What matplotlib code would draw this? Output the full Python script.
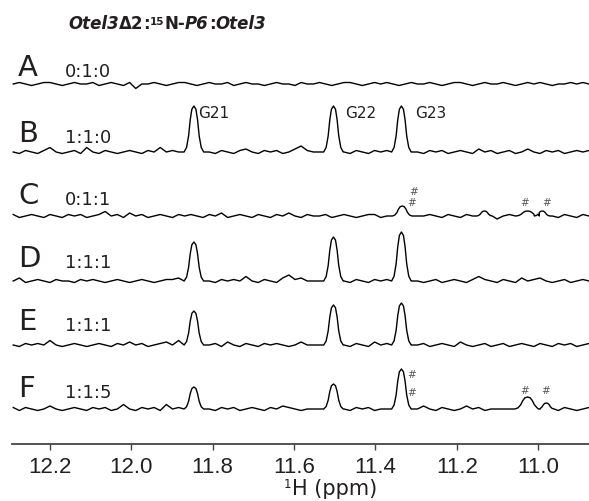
import matplotlib
matplotlib.use("Agg")
import matplotlib.pyplot as plt
import numpy as np

plt.rcParams['font.family'] = ['DejaVu Sans']

# ---- data (intensities in arbitrary units) ----
ppm_start, ppm_stop, n_pts = 12.29, 10.875, 95

trace_labels = ["A", "B", "C", "D", "E", "F"]
ratios = ["0:1:0", "1:1:0", "0:1:1", "1:1:1", "1:1:1", "1:1:5"]
baselines = [360, 292, 228, 163, 99, 35]

# peaks: (ppm, height, width factor)
peaks_a = []
peaks_b = [(11.846, 46, 1.0), (11.503, 46, 1.0), (11.336, 46, 1.0)]
peaks_c = [(11.334, 10, 1.0), (11.132, 5, 0.8), (11.026, 5, 1.2), (10.990, 5, 0.8)]
peaks_d = [(11.846, 39, 1.0), (11.503, 44, 1.0), (11.336, 49, 1.0)]
peaks_e = [(11.846, 34, 1.0), (11.503, 40, 1.0), (11.336, 42, 1.0)]
peaks_f = [(11.846, 22, 1.0), (11.503, 25, 1.0), (11.336, 40, 1.0),
           (11.026, 12, 1.3), (10.980, 6, 0.8)]

# line shape of a single resonance, as traced from the G22 peak
peak_offsets = [-0.024, -0.018, -0.013, -0.009, -0.005, 0.0,
                0.005, 0.009, 0.013, 0.018, 0.024]
peak_profile = [0.0, 0.1, 0.35, 0.7, 0.93, 1.0, 0.93, 0.7, 0.35, 0.1, 0.0]

# baseline noise
noise_a = [0, 1, 0, -1, 0, 1, 1, 0, -1, 0,
           1, 0, 0, 1, -1, 0, 1, 0, -1, 1,
           -3, 0, 0, 1, 0, -1, 0, 1, 1, 0,
           -1, 0, 1, 0, 0, 1, -1, 0, 1, 0,
           0, -1, 0, 1, 0, 0, -1, 1, 0, 0,
           1, 0, -1, 0, 1, 1, 0, -1, 0, 1,
           0, 1, 0, -1, 0, 1, 0, 0, 1, 0,
           -1, 0, 1, 1, 0, -1, 0, 1, 0, 0,
           1, 0, -1, 0, 1, 0, 1, 0, -1, 0,
           0, 1, 0, 1, 0]
noise_b = [0, -1, 1, 0, -1, 1, 3, 0, -1, 0,
           1, -1, 3, 0, -1, 1, 0, -1, 0, 1,
           0, -1, 1, 0, 3, 0, 1, 0, 0, 0,
           0, 0, 0, -1, 1, 0, -1, 1, 2, 0,
           -1, 1, 0, 1, -1, 0, 2, 4, 1, 0,
           0, 0, 0, 0, 0, -1, 1, 0, -1, 1,
           0, 1, 0, 0, 0, 0, 0, -1, 1, 0,
           1, -1, 0, 1, 0, -1, 2, 0, 1, -1,
           0, 1, -1, 0, 2, 0, -1, 1, 0, 1,
           -1, 0, 1, 0, 1]
noise_c = [1, -1, 0, 1, 0, -1, 1, 0, -1, 1,
           0, 1, -1, 0, 1, 3, 0, 1, -1, 2,
           0, 1, -1, 0, 1, 0, -1, 1, 0, 1,
           0, -1, 1, 0, 2, -1, 0, 1, 0, -1,
           1, 0, -1, 1, 0, 2, 0, -1, 1, 0,
           0, 1, -1, 0, 1, 0, -1, 0, 1, 1,
           -1, 0, 1, 0, 0, 0, 0, 0, 1, 0,
           -1, 1, 0, -1, 1, 0, 0, 0, -1, -2,
           0, 1, 0, 0, 0, 0, 0, 0, 0, -1,
           1, 0, -1, 1, 0]
noise_d = [0, 2, -1, 0, 1, 0, -1, 1, 0, 0,
           -1, 1, 0, 1, 0, -1, 0, 1, 0, -1,
           0, 1, 0, -1, 0, 1, 1, 2, 0, 0,
           0, 0, 0, -1, 1, 0, 1, 0, 3, 0,
           -1, 1, 0, -1, 2, 4, 1, 2, 0, 0,
           0, 0, 0, 0, 0, -1, 1, 0, -1, 1,
           0, 1, 0, 0, 0, 0, 0, -1, 0, 1,
           -1, 0, 1, 0, -1, 1, 3, 1, 0, -1,
           1, 0, -1, 2, 0, 1, 2, 0, -1, 0,
           1, -1, 0, 1, 0]
noise_e = [0, -1, 1, 0, 1, 0, 3, 0, -1, 0,
           1, 0, -1, 0, 1, 0, -1, 1, 0, 2,
           0, 1, -1, 0, 1, 2, 0, 3, 0, 0,
           0, 0, 0, 1, -1, 2, 0, -1, 1, 0,
           -1, 1, 0, 1, 0, -1, 0, 2, 0, 0,
           0, 0, 0, 0, 0, -1, 1, 0, -1, 2,
           0, 1, 0, 0, 0, 0, 0, 1, -1, 0,
           1, 0, -1, 2, 0, -1, 0, 1, -1, 0,
           1, -1, 0, 1, 0, -1, 1, 0, -1, 1,
           0, 1, -1, 0, 1]
noise_f = [1, -1, 1, 0, -1, 0, 2, 0, -1, 0,
           1, 0, -1, 1, 0, 1, -1, 0, 3, 0,
           -1, 1, 0, 1, -1, 3, 0, 1, 0, 0,
           0, 0, 0, -1, 1, 0, 1, -1, 0, 1,
           0, -1, 1, 0, 2, 1, 0, -1, 0, 0,
           0, 0, 0, 0, 0, -1, 1, 0, 1, -1,
           0, 0, 0, 0, 0, 0, 0, 2, 0, -1,
           1, 0, -1, 0, 2, 0, 1, -1, 0, 0,
           0, 0, 0, 0, 0, 0, 0, 0, 0, -1,
           1, 0, -1, 0, 1]
noise_scale = 1.5

all_peaks = [peaks_a, peaks_b, peaks_c, peaks_d, peaks_e, peaks_f]
all_noise = [noise_a, noise_b, noise_c, noise_d, noise_e, noise_f]

peak_names = ["G21", "G22", "G23"]
hash_c = [(414, 192), (412, 203), (525, 203), (547, 203)]
hash_f = [(412, 375), (412, 393), (525, 391), (546, 391)]

TXT = '#231f20'

W, H = 589, 502
fig = plt.figure(figsize=(W / 100, H / 100), dpi=100)


def fx(x):
    return x / W


def fy(y):
    return 1 - y / H


ax = fig.add_axes([fx(12), fy(445), 1 - fx(12), 445 / H])
ax.set_xlim(12.293, 10.875)
ax.set_ylim(0, 445)

grid = np.linspace(ppm_start, ppm_stop, n_pts)
for base, peaks, noise in zip(baselines, all_peaks, all_noise):
    xs = list(grid)
    ys = [v * noise_scale for v in noise]
    # drop noise points under each peak and insert the peak points
    keep = [True] * len(xs)
    for (c, h, w) in peaks:
        for i, x in enumerate(xs):
            if abs(x - c) <= 0.024 * w:
                keep[i] = False
    xs = [x for x, k in zip(xs, keep) if k]
    ys = [y for y, k in zip(ys, keep) if k]
    for (c, h, w) in peaks:
        for off, p in zip(peak_offsets, peak_profile):
            xs.append(c + off * w)
            ys.append(h * p)
    order = np.argsort(xs)[::-1]
    xs = np.array(xs)[order]
    ys = np.array(ys)[order] + base
    ax.plot(xs, ys, color='black', lw=1.0, solid_joinstyle='round')

for s in ['left', 'top', 'right']:
    ax.spines[s].set_visible(False)
ax.spines['bottom'].set_linewidth(1.3)
ax.spines['bottom'].set_color('#444444')
ax.set_yticks([])
ax.set_xticks([12.2, 12.0, 11.8, 11.6, 11.4, 11.2, 11.0])
ax.set_xticklabels(['12.2', '12.0', '11.8', '11.6', '11.4', '11.2', '11.0'],
                   family='Liberation Sans')
ax.tick_params(axis='x', direction='out', length=4, width=1, pad=5,
               labelsize=16, colors='#444444', labelcolor=TXT)
ax.set_facecolor('none')

# trace letters and mixing ratios
letter_y = [76, 142, 204, 267, 330, 397]
for lab, rat, y in zip(trace_labels, ratios, letter_y):
    fig.text(fx(18), fy(y), lab, fontsize=21, color=TXT, va='baseline')
    fig.text(fx(65), fy(y + 1), rat, fontsize=13, color=TXT, va='baseline')

# peak assignments
for name, x in zip(peak_names, [198, 345, 415]):
    fig.text(fx(x), fy(118), name, fontsize=11, color=TXT, va='baseline')

for (x, y) in hash_c + hash_f:
    fig.text(fx(x), fy(y), '#', fontsize=7.5, color='#555555',
             ha='center', va='center')

# x label: superscript mass number as its own small text
fig.text(fx(292), fy(495), 'H (ppm)', fontsize=15, color=TXT,
         ha='left', va='baseline')
fig.text(fx(291), fy(488), '1', fontsize=8.5, color=TXT,
         ha='right', va='baseline')

# title, built piece by piece
pieces = [("Otel3", 'italic', 12, 0), ("\u03942", 'normal', 12, 0),
          (":", 'normal', 12, 0), ("15", 'normal', 7.5, 4),
          ("N-", 'normal', 12, -4), ("P6", 'italic', 12, 0),
          (":", 'normal', 12, 0), ("Otel3", 'italic', 12, 0)]
prev = fig.text(fx(68), fy(33), pieces[0][0], fontsize=pieces[0][2],
                fontweight='bold', style=pieces[0][1], color=TXT, va='bottom')
for txt, st, fs, dy in pieces[1:]:
    prev = ax.annotate(txt, xy=(1, 0), xycoords=prev, xytext=(0, dy),
                       textcoords='offset points', fontsize=fs,
                       fontweight='bold', style=st, color=TXT,
                       ha='left', va='bottom', annotation_clip=False)

fig.savefig('out.png', dpi=100)
